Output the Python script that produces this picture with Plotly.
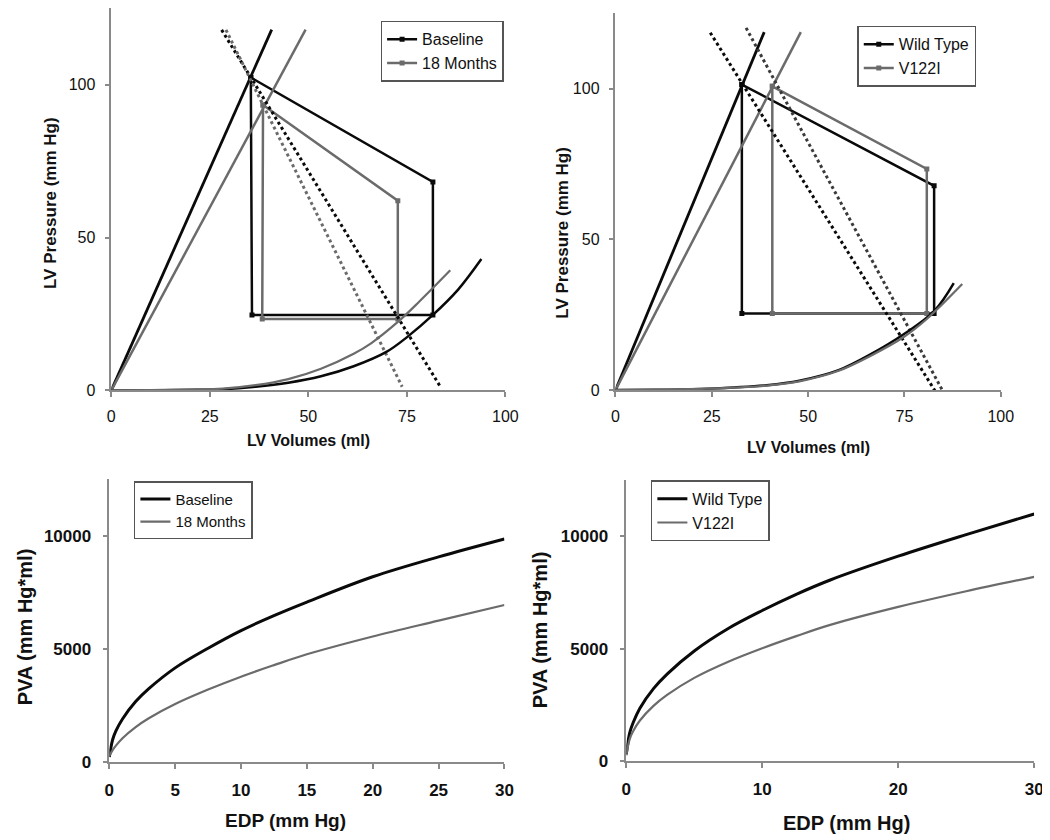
import plotly.graph_objects as go

# ---------------- data ----------------
# Top-left: Baseline vs 18 Months (LV volume ml, LV pressure mmHg)
bl_loop_v = [35.4, 81.6, 81.6, 35.7, 35.4]
bl_loop_p = [102.4, 68.2, 24.7, 24.7, 102.4]
m18_loop_v = [38.5, 72.7, 72.7, 38.3, 38.5]
m18_loop_p = [93.4, 62.1, 23.4, 23.4, 93.4]
bl_espvr_v = [0, 40.7]
bl_espvr_p = [0, 118.1]
m18_espvr_v = [0, 49.3]
m18_espvr_p = [0, 118.1]
bl_ea_v = [28.0, 83.5]
bl_ea_p = [118.0, 1.2]
m18_ea_v = [29.1, 73.8]
m18_ea_p = [118.0, 1.2]
bl_edpvr_v = [0, 10, 20, 28.3, 36.6, 44.9, 53.2, 61.5, 69.8, 75.2, 81.6, 88.0, 93.9]
bl_edpvr_p = [0, 0.05, 0.15, 0.4, 1.2, 2.5, 4.6, 7.9, 12.6, 17.6, 24.7, 33.0, 43.0]
m18_edpvr_v = [0, 10, 20, 28.3, 36.6, 44.9, 53.2, 61.5, 66.0, 72.7, 78.1, 86.0]
m18_edpvr_p = [0, 0.1, 0.3, 0.6, 1.7, 3.7, 7.1, 12.0, 15.5, 22.4, 29.0, 39.3]

# Top-right: Wild Type vs V122I
wt_loop_v = [32.8, 82.7, 82.7, 32.8, 32.8]
wt_loop_p = [101.4, 67.8, 25.4, 25.4, 101.4]
v1_loop_v = [40.7, 80.8, 80.8, 40.7, 40.7]
v1_loop_p = [100.8, 73.4, 25.4, 25.4, 100.8]
wt_espvr_v = [0, 38.6]
wt_espvr_p = [0, 118.8]
v1_espvr_v = [0, 48.1]
v1_espvr_p = [0, 118.8]
wt_ea_v = [24.6, 83.6]
wt_ea_p = [118.6, -1.6]
v1_ea_v = [33.9, 85.5]
v1_ea_p = [120.2, -1.6]
wt_edpvr_v = [0, 10, 22.2, 30.7, 39.2, 47.7, 57.9, 66.4, 74.9, 82.7, 87.8]
wt_edpvr_p = [0, 0.1, 0.4, 0.9, 1.6, 3.1, 6.6, 12.0, 18.6, 26.2, 35.5]
v1_edpvr_v = [0, 10, 22.2, 30.7, 39.2, 47.7, 57.9, 66.4, 74.9, 80.8, 90.0]
v1_edpvr_p = [0, 0.1, 0.4, 0.8, 1.5, 2.9, 6.4, 11.5, 17.7, 23.6, 35.2]

# Bottom: PVA vs EDP
edp = [0, 0.25, 0.5, 1, 2, 3, 5, 7.5, 10, 12.5, 15, 20, 25, 30]
pva_baseline = [220, 980, 1370, 1900, 2670, 3240, 4160, 5030, 5810, 6470, 7070, 8190, 9070, 9860]
pva_18m = [260, 520, 720, 1050, 1540, 1930, 2560, 3200, 3770, 4280, 4760, 5550, 6250, 6940]
pva_wt = [300, 1250, 1700, 2350, 3220, 3870, 4900, 5900, 6700, 7420, 8060, 9120, 10080, 11000]
pva_v122i = [250, 970, 1320, 1800, 2450, 2940, 3700, 4420, 5020, 5560, 6060, 6860, 7560, 8200]

y_tick_vals = [0, 5000, 10000]
y_tick_text = ["0", "5000", "10000"]

BLACK = "#0a0a0a"
GRAY = "#6b6b6b"
AXC = "#8a8a8a"
FONT = "Arial, Liberation Sans, sans-serif"

fig = go.Figure()


def add(x, y, xa, ya, color, width, name=None, legend=None, dash="solid",
        markers=False, shape="linear"):
    fig.add_trace(go.Scatter(
        x=x, y=y, xaxis=xa, yaxis=ya,
        mode="lines+markers" if markers else "lines",
        line=dict(color=color, width=width, dash=dash, shape=shape),
        marker=dict(symbol="square", size=5, color=color),
        name=name if name else "",
        showlegend=name is not None,
        legend=legend if legend else "legend",
        hoverinfo="skip",
    ))


# Top-left
add(bl_loop_v, bl_loop_p, "x", "y", BLACK, 2.5, "Baseline", "legend", markers=True)
add(m18_loop_v, m18_loop_p, "x", "y", GRAY, 2.5, "18 Months", "legend", markers=True)
add(bl_espvr_v, bl_espvr_p, "x", "y", BLACK, 2.8)
add(m18_espvr_v, m18_espvr_p, "x", "y", GRAY, 2.5)
add(bl_ea_v, bl_ea_p, "x", "y", BLACK, 3, dash="dot")
add(m18_ea_v, m18_ea_p, "x", "y", GRAY, 3, dash="dot")
add(bl_edpvr_v, bl_edpvr_p, "x", "y", BLACK, 2.5, shape="spline")
add(m18_edpvr_v, m18_edpvr_p, "x", "y", GRAY, 2.2, shape="spline")

# Top-right
add(wt_loop_v, wt_loop_p, "x2", "y2", BLACK, 2.5, "Wild Type", "legend2", markers=True)
add(v1_loop_v, v1_loop_p, "x2", "y2", GRAY, 2.5, "V122I", "legend2", markers=True)
add(wt_espvr_v, wt_espvr_p, "x2", "y2", BLACK, 2.8)
add(v1_espvr_v, v1_espvr_p, "x2", "y2", GRAY, 2.5)
add(wt_ea_v, wt_ea_p, "x2", "y2", BLACK, 3, dash="dot")
add(v1_ea_v, v1_ea_p, "x2", "y2", "#3a3a3a", 3, dash="dot")
add(wt_edpvr_v, wt_edpvr_p, "x2", "y2", BLACK, 2.5, shape="spline")
add(v1_edpvr_v, v1_edpvr_p, "x2", "y2", GRAY, 2.2, shape="spline")

# Bottom-left
add(edp, pva_baseline, "x3", "y3", BLACK, 3, "Baseline", "legend3", shape="spline")
add(edp, pva_18m, "x3", "y3", GRAY, 2.2, "18 Months", "legend3", shape="spline")

# Bottom-right
add(edp, pva_wt, "x4", "y4", BLACK, 3, "Wild Type", "legend4", shape="spline")
add(edp, pva_v122i, "x4", "y4", GRAY, 2.2, "V122I", "legend4", shape="spline")

W, H = 1050, 840


def px_x(p):
    return p / W


def px_y(p):
    return 1 - p / H


def axis(domain, rng, tickvals, ticktext=None, bold=False, size=16, standoff=8, anchor=None):
    d = dict(
        domain=domain, range=rng, tickvals=tickvals,
        showline=True, linecolor=AXC, linewidth=1.5,
        ticks="outside", ticklen=5, tickcolor=AXC, tickwidth=1.5,
        showgrid=False, zeroline=False, fixedrange=True,
        tickfont=dict(family=FONT, size=size, color="#111",
                      weight="bold" if bold else "normal"),
        ticklabelstandoff=standoff,
    )
    if ticktext is not None:
        d["ticktext"] = ticktext
    if anchor:
        d["anchor"] = anchor
    return d


layout = dict(
    width=W, height=H,
    margin=dict(l=0, r=0, t=0, b=0),
    paper_bgcolor="white", plot_bgcolor="white",
    font=dict(family=FONT, color="#111"),
    # top-left
    xaxis=axis([px_x(100), px_x(501)], [0, 100], [0, 25, 50, 75, 100], standoff=6, anchor="y"),
    yaxis=axis([px_y(387), px_y(0.5)], [0, 125], [0, 50, 100], standoff=6, anchor="x"),
    # top-right
    xaxis2=axis([px_x(613), px_x(1005)], [0, 100], [0, 25, 50, 75, 100], standoff=6, anchor="y2"),
    yaxis2=axis([px_y(386.7), px_y(5.5)], [0, 125], [0, 50, 100], standoff=6, anchor="x2"),
    # bottom-left
    xaxis3=axis([px_x(98), px_x(500)], [0, 30], [0, 5, 10, 15, 20, 25, 30], bold=True, size=17,
                standoff=7, anchor="y3"),
    yaxis3=axis([px_y(763), px_y(477)], [0, 12500], y_tick_vals, y_tick_text, bold=True, size=17,
                standoff=8, anchor="x3"),
    # bottom-right
    xaxis4=axis([px_x(624), px_x(1039)], [0, 30], [0, 10, 20, 30], bold=True, size=17,
                standoff=7, anchor="y4"),
    yaxis4=axis([px_y(762), px_y(478)], [0, 12500], y_tick_vals, y_tick_text, bold=True, size=17,
                standoff=8, anchor="x4"),
)


def leg(x, y, size):
    return dict(
        x=px_x(x), y=px_y(y), xanchor="left", yanchor="top",
        bgcolor="white", bordercolor="#555", borderwidth=1.5,
        font=dict(family=FONT, size=size, color="#111"),
        tracegroupgap=0, itemwidth=30,
    )


layout["legend"] = leg(374, 13, 16)
layout["legend2"] = leg(859, 18, 16)
layout["legend3"] = leg(123, 479, 15)
layout["legend4"] = leg(649, 478, 16)

fig.update_layout(**layout)

titles = [
    ("LV Volumes (ml)", 300.5, 438, 16, 0),
    ("LV Pressure (mm Hg)", 38, 197, 17, -90),
    ("LV Volumes (ml)", 809, 445, 16, 0),
    ("LV Pressure (mm Hg)", 559, 227, 17, -90),
    ("EDP (mm Hg)", 277, 822, 19, 0),
    ("PVA (mm Hg*ml)", 12, 626, 20, -90),
    ("EDP (mm Hg)", 848, 825, 20, 0),
    ("PVA (mm Hg*ml)", 536, 629, 20, -90),
]
for text, cx, cy, size, ang in titles:
    fig.add_annotation(
        text=f"<b>{text}</b>", x=px_x(cx), y=px_y(cy), xref="paper", yref="paper",
        xanchor="center", yanchor="middle", showarrow=False, textangle=ang,
        font=dict(family=FONT, size=size, color="#111"),
    )

fig.write_html("out.html")
